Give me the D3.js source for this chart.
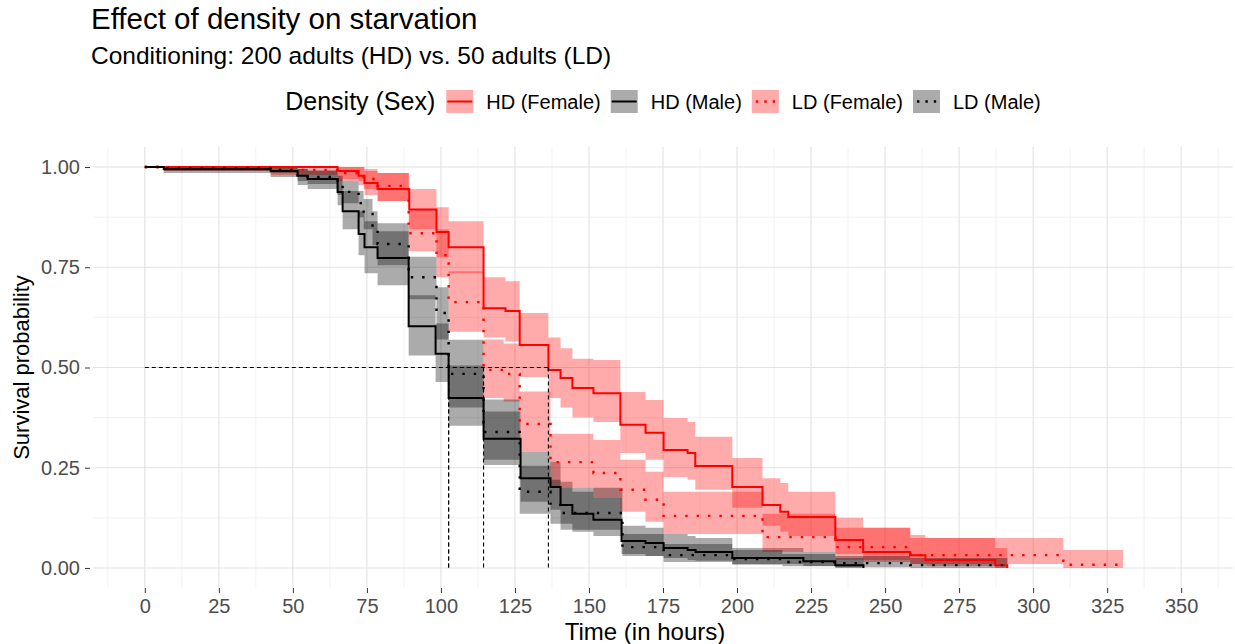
<!DOCTYPE html>
<html lang="en">
<head>
<meta charset="UTF-8">
<title>Effect of density on starvation</title>
<script src="https://d3js.org/d3.v7.min.js"></script>
<style>
  body { margin: 0; background: #fff; font-family: "Liberation Sans", Arial, sans-serif; }
  svg { display: block; }
</style>
</head>
<body>
<div id="chart"></div>
<script>
// Kaplan-Meier steps (time in hours, survival, 95% band)
const hdfTime  = [0, 65.1, 72.2, 74.2, 78.6, 89.3, 98.5, 102.6, 114.4, 121.8, 126.6, 136.3, 140.4, 144.4, 151.5, 160.6, 169.1, 175.2, 183.3, 185.9, 198.4, 208.6, 214.6, 217.3, 233.2, 242.6, 258.5, 263.6, 287.2, 291.3];
const hdfSurv  = [1, 0.990, 0.978, 0.960, 0.945, 0.894, 0.838, 0.800, 0.648, 0.641, 0.556, 0.494, 0.474, 0.449, 0.436, 0.357, 0.337, 0.294, 0.287, 0.254, 0.202, 0.157, 0.140, 0.127, 0.070, 0.040, 0.032, 0.020, 0.007, 0];
const hdfUpper = [1, 1, 1, 0.99, 0.985, 0.945, 0.90, 0.865, 0.725, 0.715, 0.636, 0.575, 0.548, 0.522, 0.519, 0.439, 0.419, 0.374, 0.364, 0.327, 0.274, 0.224, 0.212, 0.19, 0.125, 0.10, 0.082, 0.075, 0.05, 0];
const hdfLower = [1, 0.97, 0.955, 0.93, 0.915, 0.845, 0.775, 0.735, 0.575, 0.565, 0.476, 0.424, 0.40, 0.375, 0.364, 0.287, 0.27, 0.227, 0.22, 0.195, 0.15, 0.105, 0.09, 0.08, 0.035, 0.015, 0.01, 0.005, 0, 0];

const hdmTime  = [0, 6.4, 42.5, 51.6, 55, 65.1, 66.8, 72.2, 74.2, 78.6, 89.1, 98.2, 102.6, 114.4, 126.9, 137, 140.4, 144.4, 151.5, 161, 169.1, 175.2, 183.3, 186, 198.4, 222.4, 233.2, 242.7];
const hdmSurv  = [1, 0.995, 0.99, 0.978, 0.970, 0.938, 0.890, 0.833, 0.800, 0.773, 0.603, 0.534, 0.424, 0.322, 0.224, 0.202, 0.157, 0.135, 0.120, 0.067, 0.062, 0.050, 0.045, 0.040, 0.025, 0.017, 0.007, 0];
const hdmUpper = [1, 1, 1, 0.995, 0.99, 0.97, 0.94, 0.89, 0.865, 0.84, 0.68, 0.61, 0.505, 0.39, 0.29, 0.265, 0.215, 0.19, 0.175, 0.105, 0.10, 0.085, 0.08, 0.075, 0.05, 0.04, 0.025, 0];
const hdmLower = [1, 0.985, 0.975, 0.955, 0.945, 0.905, 0.845, 0.78, 0.735, 0.705, 0.53, 0.464, 0.355, 0.257, 0.165, 0.145, 0.11, 0.09, 0.08, 0.035, 0.03, 0.025, 0.02, 0.018, 0.01, 0.005, 0, 0];

const ldfTime  = [0, 6.4, 42.5, 65.1, 73.9, 78.6, 89.1, 98.5, 102.6, 114.4, 121.2, 126.6, 137, 151.5, 160.6, 169.1, 175.2, 208.6, 233.2, 258.5, 310.2, 330.4];
const ldfSurv  = [1, 0.998, 0.993, 0.985, 0.970, 0.953, 0.835, 0.780, 0.663, 0.494, 0.484, 0.359, 0.264, 0.237, 0.195, 0.170, 0.130, 0.077, 0.052, 0.032, 0.008, 0];
const ldfUpper = [1, 1, 1, 1, 0.995, 0.985, 0.893, 0.845, 0.74, 0.57, 0.56, 0.44, 0.335, 0.319, 0.27, 0.24, 0.19, 0.135, 0.10, 0.075, 0.045, 0];
const ldfLower = [1, 0.99, 0.98, 0.965, 0.945, 0.915, 0.79, 0.725, 0.589, 0.424, 0.415, 0.29, 0.20, 0.175, 0.14, 0.115, 0.085, 0.04, 0.02, 0.01, 0, 0];

const ldmTime  = [0, 6.4, 42.5, 51.6, 55, 65.1, 66.8, 72.2, 73.9, 76.9, 78.6, 89.1, 98.5, 102.6, 114.4, 126.6, 137, 140.4, 161.3, 175.2, 198.4, 215.3, 233.2, 258.5, 291.3];
const ldmSurv  = [1, 0.997, 0.993, 0.980, 0.975, 0.955, 0.938, 0.910, 0.883, 0.848, 0.808, 0.725, 0.636, 0.484, 0.339, 0.190, 0.157, 0.137, 0.052, 0.032, 0.022, 0.015, 0.012, 0.007, 0];
const ldmUpper = [1, 1, 1, 0.995, 0.992, 0.978, 0.965, 0.94, 0.92, 0.89, 0.86, 0.776, 0.70, 0.569, 0.42, 0.255, 0.22, 0.20, 0.085, 0.06, 0.045, 0.035, 0.03, 0.025, 0];
const ldmLower = [1, 0.99, 0.985, 0.965, 0.958, 0.93, 0.91, 0.875, 0.845, 0.805, 0.755, 0.67, 0.57, 0.40, 0.27, 0.135, 0.11, 0.095, 0.03, 0.015, 0.008, 0.004, 0.002, 0, 0];

const groupNames = ['HD (Female)', 'HD (Male)', 'LD (Female)', 'LD (Male)'];
const medians = [102.6, 102.6, 114.4, 136.3];
const xTicks = d3.range(0, 351, 25);
const yTicks = [0, 0.25, 0.5, 0.75, 1];

const width = 1235, height = 644;
const panel = {left: 93, right: 1233, top: 147, bottom: 588};

const svg = d3.select('#chart').append('svg')
  .attr('width', width).attr('height', height);

const x = d3.scaleLinear().domain([-17.5, 367.5]).range([panel.left, panel.right]);
const y = d3.scaleLinear().domain([-0.05, 1.05]).range([panel.bottom, panel.top]);

// grid
const grid = svg.append('g');
d3.range(-12.5, 367.5, 12.5).forEach(v => {
  const major = v % 25 === 0;
  grid.append('line')
    .attr('x1', x(v)).attr('x2', x(v)).attr('y1', panel.top).attr('y2', panel.bottom)
    .attr('stroke', major ? '#e2e2e2' : '#ececec').attr('stroke-width', major ? 1.1 : 0.7);
});
d3.range(0, 1.01, 0.125).forEach(v => {
  const major = Math.abs(v * 4 - Math.round(v * 4)) < 1e-9;
  grid.append('line')
    .attr('y1', y(v)).attr('y2', y(v)).attr('x1', panel.left).attr('x2', panel.right)
    .attr('stroke', major ? '#e2e2e2' : '#ececec').attr('stroke-width', major ? 1.1 : 0.7);
});

// axes
const xAxis = svg.append('g')
  .attr('transform', `translate(0,${panel.bottom})`)
  .call(d3.axisBottom(x).tickValues(xTicks).tickSize(5).tickPadding(6));
const yAxis = svg.append('g')
  .attr('transform', `translate(${panel.left - 3},0)`)
  .call(d3.axisLeft(y).tickValues(yTicks).tickFormat(d3.format('.2f')).tickSize(5).tickPadding(5));
[xAxis, yAxis].forEach(a => {
  a.select('.domain').remove();
  a.selectAll('line').attr('stroke', '#333').attr('stroke-width', 1);
  a.selectAll('text').attr('fill', '#4d4d4d')
    .style('font-size', '20px').style('font-family', '"Liberation Sans", Arial, sans-serif');
});

const series = [
  {time: hdfTime, surv: hdfSurv, hi: hdfUpper, lo: hdfLower, color: '#ff0000', dotted: false},
  {time: hdmTime, surv: hdmSurv, hi: hdmUpper, lo: hdmLower, color: '#000000', dotted: false},
  {time: ldfTime, surv: ldfSurv, hi: ldfUpper, lo: ldfLower, color: '#ff0000', dotted: true},
  {time: ldmTime, surv: ldmSurv, hi: ldmUpper, lo: ldmLower, color: '#000000', dotted: true}
];

const area = d3.area().curve(d3.curveStepAfter)
  .x(d => x(d.t)).y0(d => y(d.lo)).y1(d => y(d.hi));
const line = d3.line().curve(d3.curveStepAfter)
  .x(d => x(d.t)).y(d => y(d.s));

series.forEach(s => {
  const pts = s.time.map((t, i) => ({t: t, s: s.surv[i], hi: s.hi[i], lo: s.lo[i]}));
  svg.append('path').datum(pts).attr('d', area)
    .attr('fill', s.color).attr('fill-opacity', 0.33);
});
series.forEach(s => {
  const pts = s.time.map((t, i) => ({t: t, s: s.surv[i]}));
  svg.append('path').datum(pts).attr('d', line)
    .attr('fill', 'none').attr('stroke', s.color)
    .attr('stroke-width', s.dotted ? 2.4 : 2)
    .attr('stroke-dasharray', s.dotted ? '2.4,9' : null);
});

// median lines
svg.append('line')
  .attr('x1', x(0)).attr('x2', x(d3.max(medians)))
  .attr('y1', y(0.5)).attr('y2', y(0.5))
  .attr('stroke', '#000').attr('stroke-width', 1.1).attr('stroke-dasharray', '4,3');
medians.forEach(m => {
  svg.append('line')
    .attr('x1', x(m)).attr('x2', x(m)).attr('y1', y(0.5)).attr('y2', y(0))
    .attr('stroke', '#000').attr('stroke-width', 1.1).attr('stroke-dasharray', '4,3');
});

// titles
svg.append('text').attr('x', 91).attr('y', 29)
  .style('font-size', '29.5px').attr('fill', '#000').text('Effect of density on starvation');
svg.append('text').attr('x', 91).attr('y', 64)
  .style('font-size', '24.5px').attr('fill', '#000').text('Conditioning: 200 adults (HD) vs. 50 adults (LD)');
svg.append('text').attr('x', 645).attr('y', 640)
  .attr('text-anchor', 'middle').style('font-size', '24px').text('Time (in hours)');
svg.append('text')
  .attr('transform', `translate(29,${y(0.5)}) rotate(-90)`)
  .attr('text-anchor', 'middle').style('font-size', '22px').text('Survival probability');

// legend
const leg = svg.append('g');
const legTitle = leg.append('text').attr('y', 110).style('font-size', '25px').text('Density (Sex)');
let cx = legTitle.node().getComputedTextLength() + 11;
series.forEach((s, i) => {
  const g = leg.append('g').attr('transform', `translate(${cx},0)`);
  g.append('rect').attr('x', 0).attr('y', 90).attr('width', 27).attr('height', 23)
    .attr('fill', s.color).attr('fill-opacity', 0.33);
  g.append('line').attr('x1', 1).attr('x2', 26).attr('y1', 101.5).attr('y2', 101.5)
    .attr('stroke', s.color).attr('stroke-width', s.dotted ? 2.4 : 2)
    .attr('stroke-dasharray', s.dotted ? '2.4,6' : null)
    .attr('stroke-dashoffset', s.dotted ? -3 : 0);
  const t = g.append('text').attr('x', 40).attr('y', 109).style('font-size', '20px')
    .text(groupNames[i]);
  cx += 40 + t.node().getComputedTextLength() + 10;
});
const legWidth = cx - 10;
leg.attr('transform', `translate(${(panel.left + panel.right) / 2 - legWidth / 2},0)`);
</script>
</body>
</html>
